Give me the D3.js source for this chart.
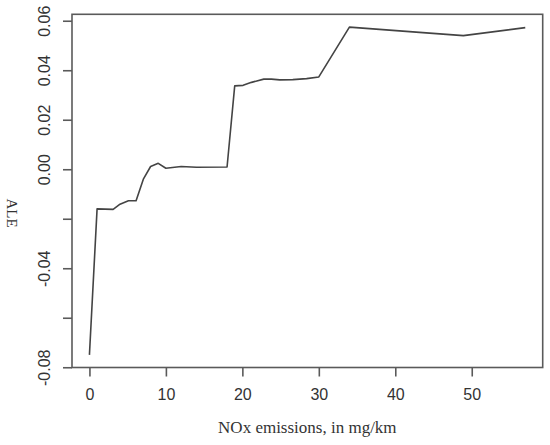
<!DOCTYPE html>
<html><head><meta charset="utf-8">
<script src="https://cdn.jsdelivr.net/npm/d3@7"></script>
<style>body{margin:0;background:#fff}svg{display:block}</style>
</head><body>
<svg id="c" width="550" height="445"></svg>
<script>
const noxX = [0, 1, 3.1, 4, 5.1, 6.1, 7.05, 8, 9, 10, 12, 14, 18, 19, 20.1, 21.2, 22.8, 23.8, 24.9, 26.6, 28.4, 30, 34, 43.6, 48.9, 57];
const aleY = [-0.0750, -0.0160, -0.0162, -0.0141, -0.0127, -0.0127, -0.0040, 0.0011, 0.0024, 0.0004, 0.0011, 0.0008, 0.0009, 0.0337, 0.0339, 0.0351, 0.0364, 0.0364, 0.0361, 0.0362, 0.0366, 0.0373, 0.0574, 0.0552, 0.0540, 0.0572];
const xTicks = [0, 10, 20, 30, 40, 50];
const yTicks = [-0.08, -0.06, -0.04, -0.02, 0.00, 0.02, 0.04, 0.06];
const yTickLabels = ["-0.08", "", "-0.04", "", "0.00", "0.02", "0.04", "0.06"];
const xTitle = "NOx emissions, in mg/km";
const yTitle = "ALE";

const svg = d3.select("#c");
const x = d3.scaleLinear().domain([-2.28, 59.28]).range([72, 542.7]);
const y = d3.scaleLinear().domain([-0.0801, 0.0626]).range([367.5, 14.3]);
const frameCol = "#5a5a5a";

// frame
svg.append("rect")
  .attr("x", x(-2.28)).attr("y", y(0.0626))
  .attr("width", x(59.28) - x(-2.28)).attr("height", y(-0.0801) - y(0.0626))
  .attr("fill", "none").attr("stroke", frameCol).attr("stroke-width", 1.6);

// x axis
const xa = svg.append("g").attr("transform", `translate(0,${y(-0.0801)})`)
  .call(d3.axisBottom(x).tickValues(xTicks).tickSize(9).tickPadding(12).tickFormat(d3.format("d")));
xa.select(".domain").remove();
xa.selectAll("line").attr("stroke", frameCol).attr("stroke-width", 1.6);
xa.selectAll("text").attr("font-family", "Liberation Sans, Arial, sans-serif").attr("font-size", 16).attr("fill", "#333");

// y axis
const ya = svg.append("g").attr("transform", `translate(${x(-2.28)},0)`)
  .call(d3.axisLeft(y).tickValues(yTicks).tickSize(9).tickFormat((d, i) => yTickLabels[i]));
ya.select(".domain").remove();
ya.selectAll("line").attr("stroke", frameCol).attr("stroke-width", 1.6);
ya.selectAll("text")
  .attr("font-family", "Liberation Sans, Arial, sans-serif").attr("font-size", 16).attr("fill", "#333")
  .attr("text-anchor", "middle").attr("dy", null).attr("x", null)
  .attr("transform", "translate(-22,0) rotate(-90)");

// line
svg.append("path")
  .datum(noxX.map((v, i) => [v, aleY[i]]))
  .attr("fill", "none").attr("stroke", "#444").attr("stroke-width", 1.6).attr("stroke-linejoin", "round")
  .attr("d", d3.line().x(d => x(d[0])).y(d => y(d[1])));

// titles
svg.append("text").attr("x", (x(-2.28) + x(59.28)) / 2).attr("y", 433)
  .attr("text-anchor", "middle").attr("font-family", "Liberation Serif, Times New Roman, serif")
  .attr("font-size", 17).attr("fill", "#333").text(xTitle);
svg.append("text").attr("transform", "translate(7,213) rotate(90)")
  .attr("text-anchor", "middle").attr("font-family", "Liberation Serif, Times New Roman, serif")
  .attr("font-size", 15).attr("fill", "#333").text(yTitle);
</script>
</body></html>
